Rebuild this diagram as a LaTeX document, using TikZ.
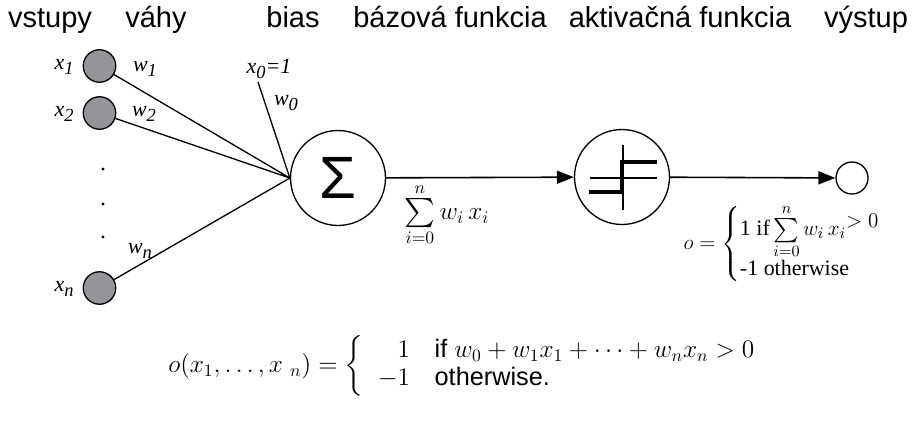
\documentclass[tikz,border=0pt]{standalone}
\usepackage{amsmath}
\usepackage{fontspec}
\setmainfont{Liberation Serif}
\setsansfont{Liberation Sans}
\usetikzlibrary{arrows.meta,positioning}
\definecolor{ingray}{RGB}{147,149,152}
\newcommand{\isub}[2]{\textit{#1}\raisebox{-0.5ex}{\fontsize{10.5}{10}\selectfont\textit{#2}}}
\newcommand{\bsum}{\mathop{\vcenter{\hbox{\scalebox{1.15}{$\sum$}}}}\limits}

\begin{document}
\begin{tikzpicture}[x=0.02cm,y=-0.02cm,
                    every node/.style={inner sep=0pt},
                    head/.style={font=\sffamily\fontsize{16.5}{18}\selectfont,anchor=base},
                    lab/.style={font=\fontsize{12.5}{14}\selectfont},
                    inp/.style={circle,draw,fill=ingray,minimum size=0.65cm,line width=0.75pt},
                    unit/.style={circle,draw,minimum size=1.9cm,line width=0.75pt},
                    sig/.style={line width=0.9pt,-{Triangle[length=0.34cm,width=0.26cm]}}]
  \useasboundingbox (0,0) rectangle (915,430);
  % headings
  \node[head] (hin)   at (50,27)  {vstupy};
  \node[head] (hw)    at (156,27) {váhy};
  \node[head] (hb)    at (293,27) {bias};
  \node[head] (hbase) at (450,27) {bázová funkcia};
  \node[head] (hact)  at (680,27) {aktivačná funkcia};
  \node[head] (hout)  at (866,27) {výstup};
  % inputs
  \node[inp] (x1) at (99.5,66)  {};
  \node[inp] (x2) at (99.5,113) {};
  \node[inp] (xn) at (99.5,288) {};
  \node[lab] (lx1) at (64,67)  {\isub{x}{1}};
  \node[lab] (lx2) at (64,114) {\isub{x}{2}};
  \node[lab] (lxn) at (64,289) {\isub{x}{n}};
  \fill (103,169) circle (1.6) (103,204) circle (1.6) (103,237) circle (1.6);
  % units
  \node[unit] (sum)  at (338,178) {\sffamily\fontsize{34}{34}\selectfont Σ};
  \node[unit] (step) at (622,177) {};
  \node[circle,draw,minimum size=0.64cm,line width=0.75pt] (out) at (852,178) {};
  \coordinate (bias) at (258,82);
  % weights
  \node[lab] (lw1) at (145,69)  {\isub{w}{1}};
  \node[lab] (lw2) at (144,114) {\isub{w}{2}};
  \node[lab] (lwn) at (140,251) {\isub{w}{n}};
  \node[lab] (lx0) at (269,69)  {\isub{x}{0}\textit{=1}};
  \node[lab] (lw0) at (286,103) {\isub{w}{0}};
  \draw[line width=0.75pt] (x1)--(sum.west) (x2)--(sum.west) (xn)--(sum.west) (bias)--(sum.west);
  \draw[sig] (sum) -- (step);
  \draw[sig] (step) -- (out);
  % step glyph
  \begin{scope}[shift={(step.center)}]
    \draw[line width=0.75pt] (1,-32) -- (1,33) (-32,1) -- (35,1);
    \draw[line width=2.3pt] (-33,15) -- (0,15) -- (0,-15) -- (35,-15);
  \end{scope}
  % formulas
  \node[font=\fontsize{14.4}{16}\selectfont] (sumlab) at (447,215) {$\bsum_{i=0}^{n} w_i\,x_i$};
  \node[font=\fontsize{12.5}{14}\selectfont] (olab) at (782,244)
    {$o=\left\{\begin{array}{@{}l@{}}\text{1 if}\bsum_{i=0}^{n}w_i\,x_i\raisebox{0.8ex}{$>0$}\\[1pt]\text{-1 otherwise}\end{array}\right.$};
  \node[anchor=west,font=\fontsize{14.4}{16}\selectfont] (rule) at (168,366)
    {$o(x_1,\ldots,x\;{}_n) = \left\{\begin{array}{rl} \quad 1 & \text{\sffamily\ if } w_0+w_1x_1+\cdots+w_nx_n>0\\ -1 & \text{\sffamily\ otherwise.}\end{array}\right.$};
\end{tikzpicture}
\end{document}
